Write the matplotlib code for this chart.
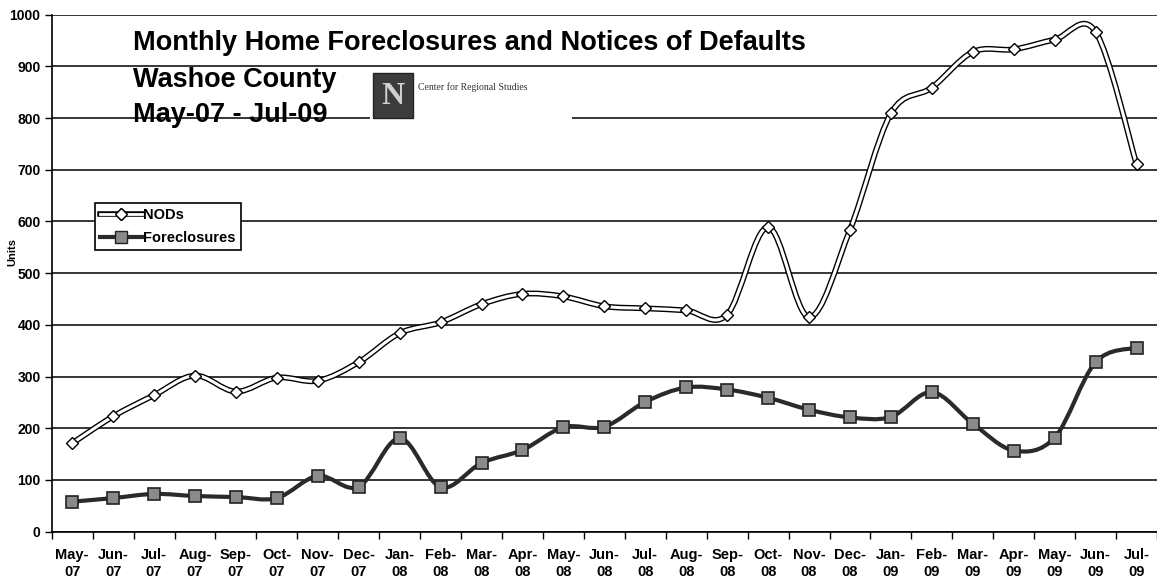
import matplotlib
matplotlib.use("Agg")
import matplotlib.pyplot as plt
from matplotlib.path import Path
from matplotlib.patches import PathPatch, Rectangle

plt.rcParams['font.family'] = ['Liberation Sans', 'DejaVu Sans']

months = ['May-\n07', 'Jun-\n07', 'Jul-\n07', 'Aug-\n07', 'Sep-\n07', 'Oct-\n07', 'Nov-\n07',
          'Dec-\n07', 'Jan-\n08', 'Feb-\n08', 'Mar-\n08', 'Apr-\n08', 'May-\n08', 'Jun-\n08',
          'Jul-\n08', 'Aug-\n08', 'Sep-\n08', 'Oct-\n08', 'Nov-\n08', 'Dec-\n08', 'Jan-\n09',
          'Feb-\n09', 'Mar-\n09', 'Apr-\n09', 'May-\n09', 'Jun-\n09', 'Jul-\n09']

nods = [171, 223, 264, 302, 271, 298, 292, 328, 384, 405, 440, 460, 455, 436,
        432, 428, 420, 589, 415, 584, 809, 859, 928, 933, 952, 967, 711]

foreclosures = [58, 65, 73, 69, 67, 65, 108, 87, 181, 86, 133, 158, 202, 203,
                251, 279, 275, 259, 236, 221, 222, 270, 209, 157, 182, 328, 356]

title_lines = ['Monthly Home Foreclosures and Notices of Defaults', 'Washoe County', 'May-07 - Jul-09']


def smooth_path(ys):
    # Excel style smoothed line: bezier segments through every point
    pts = list(zip(range(len(ys)), ys))
    verts = [pts[0]]
    codes = [Path.MOVETO]
    n = len(pts)
    for i in range(n - 1):
        p0 = pts[i - 1] if i > 0 else pts[i]
        p1 = pts[i]
        p2 = pts[i + 1]
        p3 = pts[i + 2] if i + 2 < n else pts[i + 1]
        c1 = (p1[0] + (p2[0] - p0[0]) / 6, p1[1] + (p2[1] - p0[1]) / 6)
        c2 = (p2[0] - (p3[0] - p1[0]) / 6, p2[1] - (p3[1] - p1[1]) / 6)
        verts += [c1, c2, p2]
        codes += [Path.CURVE4] * 3
    return Path(verts, codes)


W, H = 1157, 584
fig = plt.figure(figsize=(11.57, 5.84), dpi=100)
ax = fig.add_axes([0.0447, 0.0896, 0.9553, 0.8852])

x = list(range(len(months)))

# NODs: hollow looking line with white diamonds
ax.add_patch(PathPatch(smooth_path(nods), fill=False, lw=4.2, edgecolor='black', zorder=3))
ax.add_patch(PathPatch(smooth_path(nods), fill=False, lw=2.2, edgecolor='white', zorder=3.1))
ax.plot(x, nods, ls='none', marker='D', ms=6.5, mfc='white', mec='black', mew=1, zorder=4)

# Foreclosures: dark line with grey squares
ax.add_patch(PathPatch(smooth_path(foreclosures), fill=False, lw=3, edgecolor='#2a2a2a', zorder=3))
ax.plot(x, foreclosures, ls='none', marker='s', ms=9, mfc='#8a8a8a', mec='#222222', mew=1.2, zorder=4)

# legend proxies
h1, = ax.plot([], [], color='black', lw=4, marker='D', ms=6.5, mfc='white', mec='black')
h1w, = ax.plot([], [], color='white', lw=2, marker='D', ms=6.5, mfc='white', mec='black')
h2, = ax.plot([], [], color='#2a2a2a', lw=3, marker='s', ms=9, mfc='#8a8a8a', mec='#222222')
leg = ax.legend([(h1, h1w), h2], ['NODs', 'Foreclosures'], loc='upper left',
                bbox_to_anchor=(0.039, 0.636), frameon=True, fancybox=False,
                edgecolor='black', framealpha=1, borderpad=0.35, handlelength=2.9,
                handletextpad=0.05, labelspacing=0.6, borderaxespad=0,
                prop={'weight': 'bold', 'size': 10.5})
leg.get_frame().set_linewidth(1.2)
leg.set_zorder(6)

ax.set_xlim(-0.5, len(months) - 0.5)
ax.set_ylim(0, 1000)
ax.set_yticks(range(0, 1001, 100))
ax.set_xticks(x)
ax.set_xticklabels(months, fontsize=10.5, fontweight='bold', linespacing=1.2)
ax.set_xticks([i - 0.5 for i in range(len(months) + 1)], minor=True)
ax.tick_params(axis='x', which='major', length=0, pad=12)
ax.tick_params(axis='x', which='minor', length=5, width=1, direction='out')
ax.tick_params(axis='y', length=5, width=1, direction='out', labelsize=10, pad=3)
for lab in ax.get_yticklabels():
    lab.set_fontweight('bold')

ax.grid(axis='y', color='black', lw=1.1)
ax.set_axisbelow(True)
for s in ['top', 'right']:
    ax.spines[s].set_visible(False)
ax.spines['left'].set_linewidth(1.2)
ax.spines['bottom'].set_linewidth(1.2)

fig.text(0.011, 0.568, 'Units', rotation=90, ha='center', va='center', fontsize=8, fontweight='bold')

# title block
ypos = [50, 87, 122]
for t, yp in zip(title_lines, ypos):
    fig.text(133 / W, (H - yp) / H, t, fontsize=19.5, fontweight='bold', ha='left',
             va='baseline', zorder=7)

# logo area
fig.add_artist(Rectangle((370 / W, (H - 124) / H), (572 - 370) / W, 54 / H,
                         transform=fig.transFigure, facecolor='white', edgecolor='none', zorder=5))
fig.add_artist(Rectangle((373 / W, (H - 118) / H), 40 / W, 45 / H,
                         transform=fig.transFigure, facecolor='#3c3c3c', edgecolor='#222222', zorder=6))
fig.text(393 / W, (H - 96) / H, 'N', family=['Liberation Serif', 'DejaVu Serif'], fontsize=23,
         fontweight='bold', color='#d0d0d0', ha='center', va='center', zorder=7)
fig.text(418 / W, (H - 87) / H, 'Center for Regional Studies', fontsize=7, color='#333333',
         family=['Liberation Serif', 'DejaVu Serif'], ha='left', va='center', zorder=7)

fig.savefig('out.png', dpi=100)
